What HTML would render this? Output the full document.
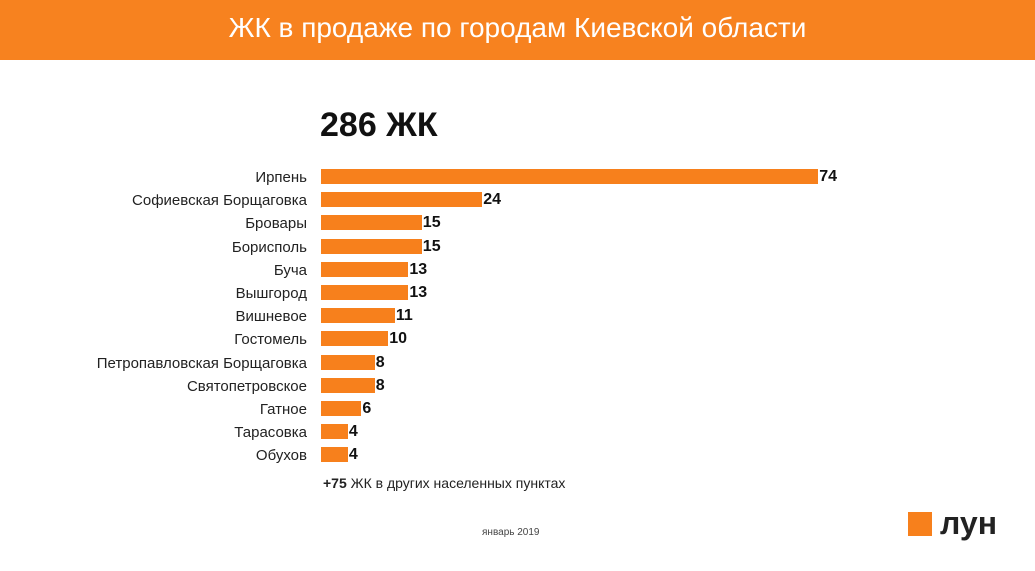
<!DOCTYPE html>
<html><head><meta charset="utf-8"><style>
body{margin:0;width:1035px;height:571px;background:#fff;position:relative;overflow:hidden;font-family:"Liberation Sans",sans-serif;}
.hdr{position:absolute;left:0;top:0;width:1035px;height:60px;background:#f7821f;color:#fff;font-size:28px;text-align:center;line-height:56px;}
.t{position:absolute;left:320px;top:106px;font-size:34px;font-weight:bold;color:#111;}
.l{position:absolute;right:728px;font-size:15px;color:#222;text-align:right;white-space:nowrap;}
.b{position:absolute;left:321px;height:15px;background:#f7801c;}
.v{position:absolute;font-size:16px;color:#111;font-weight:bold;}
</style></head><body>
<div class="hdr">ЖК в продаже по городам Киевской области</div>
<div class="t">286 ЖК</div>
<div id="c"></div>
<div style="position:absolute;left:323px;top:475px;font-size:14px;color:#222;"><b>+75</b> ЖК в других населенных пунктах</div>
<div style="position:absolute;left:482px;top:527px;font-size:10px;color:#444;">январь 2019</div>
<div style="position:absolute;left:908px;top:512px;width:24px;height:24px;background:#f7801c;"></div>
<div style="position:absolute;left:940px;top:505px;font-size:32px;font-weight:bold;color:#222;">лун</div>
<script>
var d=[["Ирпень",74],["Софиевская Борщаговка",24],["Бровары",15],["Борисполь",15],["Буча",13],["Вышгород",13],["Вишневое",11],["Гостомель",10],["Петропавловская Борщаговка",8],["Святопетровское",8],["Гатное",6],["Тарасовка",4],["Обухов",4]];
var h="";d.forEach(function(r,i){var y=169+i*23.2,w=r[1]*6.72;
h+='<div class="l" style="top:'+(y)+'px">'+r[0]+'</div><div class="b" style="top:'+y+'px;width:'+w+'px"></div><div class="v" style="top:'+(y-1)+'px;left:'+(322+w)+'px">'+r[1]+'</div>';});
document.getElementById("c").innerHTML=h;
</script>
</body></html>
